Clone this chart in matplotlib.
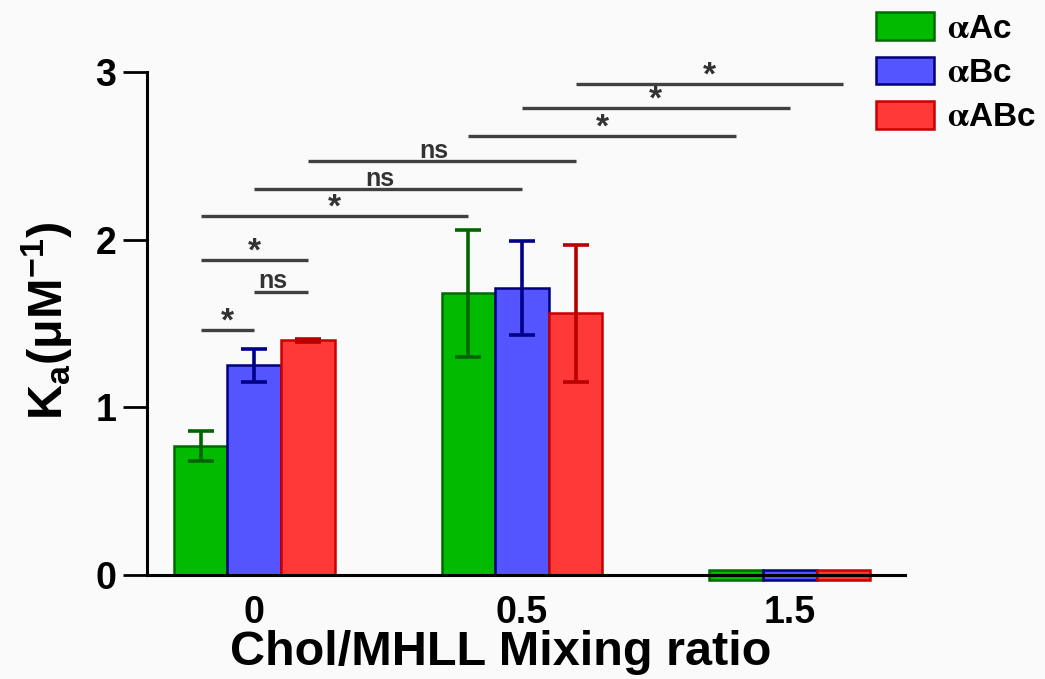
import numpy as np
import matplotlib.pyplot as plt

plt.rcParams['font.family'] = ['Liberation Sans', 'DejaVu Sans']
plt.rcParams['font.weight'] = 'bold'
plt.rcParams['mathtext.fontset'] = 'custom'
plt.rcParams['mathtext.rm'] = 'Liberation Sans:bold'
plt.rcParams['mathtext.bf'] = 'Liberation Sans:bold'
plt.rcParams['mathtext.default'] = 'rm'

# --- datos ---
ratios = ['0', '0.5', '1.5']
series = [r'$\mathrm{\alpha}$Ac', r'$\mathrm{\alpha}$Bc', r'$\mathrm{\alpha}$ABc']
ka_aAc = [0.77, 1.68, 0.03]
ka_aBc = [1.25, 1.71, 0.03]
ka_aABc = [1.40, 1.56, 0.03]
err_aAc = [0.09, 0.38, 0.0]
err_aBc = [0.10, 0.28, 0.0]
err_aABc = [0.01, 0.41, 0.0]

# comparaciones: (grupo, serie) inicio, (grupo, serie) fin, altura, etiqueta
comparaciones = [
    ((0, 0), (0, 1), 1.46, '*'),
    ((0, 1), (0, 2), 1.69, 'ns'),
    ((0, 0), (0, 2), 1.88, '*'),
    ((0, 0), (1, 0), 2.14, '*'),
    ((0, 1), (1, 1), 2.30, 'ns'),
    ((0, 2), (1, 2), 2.47, 'ns'),
    ((1, 0), (2, 0), 2.62, '*'),
    ((1, 1), (2, 1), 2.785, '*'),
    ((1, 2), (2, 2), 2.93, '*'),
]

colores = ['#00bb00', '#5555ff', '#ff3838']
bordes = ['#006a00', '#00007a', '#c80000']
barras_err = ['#006400', '#000088', '#b80000']

fig = plt.figure(figsize=(10.45, 6.79), dpi=100)
fig.patch.set_facecolor('#fafafa')
ax = fig.add_axes([0.1407, 0.153, 0.7253, 0.741])
ax.set_facecolor('#fafafa')

x = np.arange(len(ratios))
ancho = 0.2
offsets = [-ancho, 0.0, ancho]
valores = [ka_aAc, ka_aBc, ka_aABc]
errores = [err_aAc, err_aBc, err_aABc]

for i in range(3):
    v = np.array(valores[i])
    e = np.array(errores[i])
    # barras casi nulas se dibujan centradas sobre el eje, como en el original
    base = np.where(v < 0.1, -v, 0.0)
    alto = np.where(v < 0.1, 2 * v, v)
    ax.bar(x + offsets[i], alto, ancho, bottom=base, color=colores[i],
           edgecolor=bordes[i], linewidth=1.8, label=series[i], clip_on=False, zorder=2)
    m = e > 0
    ax.errorbar((x + offsets[i])[m], v[m], yerr=e[m], fmt='none', ecolor=barras_err[i],
                elinewidth=2.6, capsize=9.5, capthick=2.6, zorder=3)

# líneas de significancia
for (g1, s1), (g2, s2), h, txt in comparaciones:
    x1 = x[g1] + offsets[s1]
    x2 = x[g2] + offsets[s2]
    ax.plot([x1, x2], [h, h], color='#404040', linewidth=2.4, clip_on=False,
            solid_capstyle='butt')
    if txt == '*':
        ax.text((x1 + x2) / 2, h - 0.045, txt, ha='center', va='bottom',
                fontsize=24, color='#333333', clip_on=False)
    else:
        ax.text((x1 + x2) / 2 - 0.03, h - 0.01, txt, ha='center', va='bottom',
                fontsize=18, color='#333333', clip_on=False)

ax.set_xlim(-0.4, 2.43)
ax.set_ylim(0, 3)
ax.set_yticks([0, 1, 2, 3])
ax.set_xticks(x)
ax.set_xticklabels(ratios)
ax.tick_params(axis='y', length=17, width=2, direction='out', labelsize=27, pad=5)
ax.tick_params(axis='x', length=0, labelsize=27, pad=14)
for lab in ax.get_xticklabels() + ax.get_yticklabels():
    lab.set_fontweight('bold')

for s in ['top', 'right']:
    ax.spines[s].set_visible(False)
for s in ['left', 'bottom']:
    ax.spines[s].set_linewidth(2.2)
    ax.spines[s].set_zorder(4)

ax.set_xlabel('Chol/MHLL Mixing ratio', fontsize=35, fontweight='bold')
ax.xaxis.set_label_coords(0.466, -0.179)
ax.xaxis.label.set_va('baseline')
ax.set_ylabel(r'K$_{a}$(μM$^{-1}$)', fontsize=35, fontweight='bold')
ax.yaxis.set_label_coords(-0.095, 0.505)

leg = ax.legend(loc='upper left', bbox_to_anchor=(0.838, 0.982), bbox_transform=fig.transFigure,
                frameon=False, fontsize=24, handlelength=1.75, handleheight=0.9,
                handletextpad=0.4, labelspacing=0.36, borderaxespad=0, borderpad=0)
for t in leg.get_texts():
    t.set_math_fontfamily('stix')

plt.savefig('out.png', dpi=100, facecolor=fig.get_facecolor())
